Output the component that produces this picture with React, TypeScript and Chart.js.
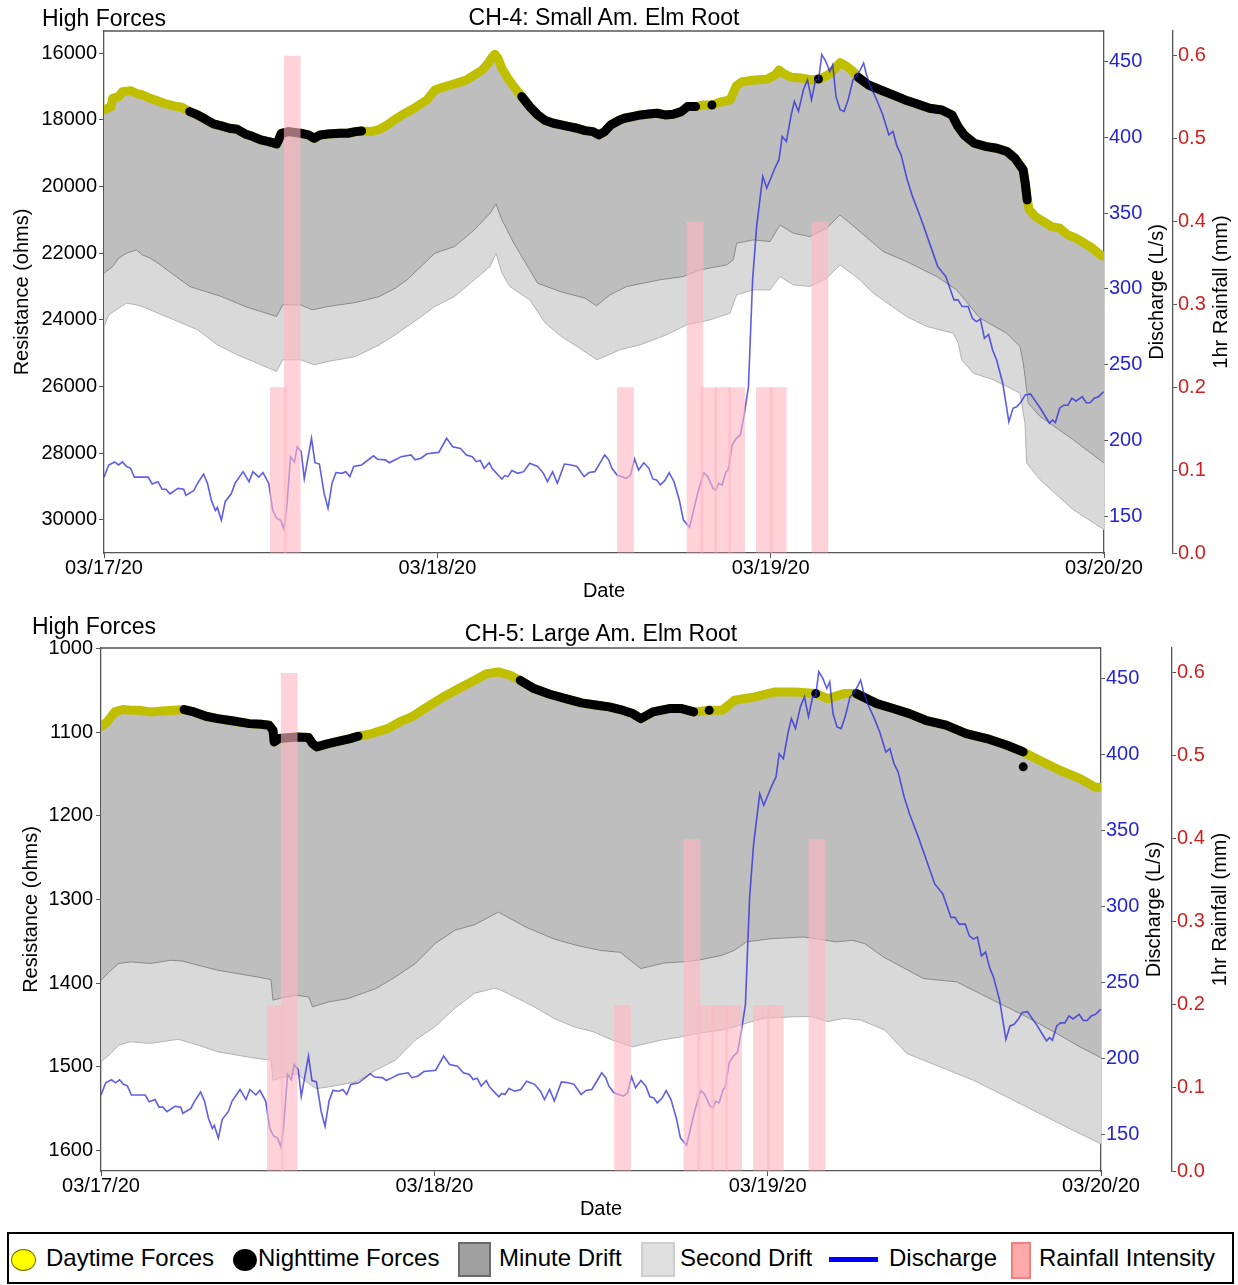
import React, { useEffect, useRef } from 'react';
import { Chart, registerables } from 'chart.js';

Chart.register(...registerables);

const FONT = '"Liberation Sans", Arial, Helvetica, sans-serif';
Chart.defaults.font.family = FONT;
Chart.defaults.color = '#000';

// ---------- shared axis ticks ----------
const DATE_LABELS = ['03/17/20', '03/18/20', '03/19/20', '03/20/20'];
const DATE_TICK_HOURS = [0, 24, 48, 72];
const DISCHARGE_TICKS = [150, 200, 250, 300, 350, 400, 450];
const RAIN_TICKS = [0, 0.1, 0.2, 0.3, 0.4, 0.5, 0.6];
const CH4_TICKS = [16000, 18000, 20000, 22000, 24000, 26000, 28000, 30000];
const CH5_TICKS = [1000, 1100, 1200, 1300, 1400, 1500, 1600];

// ---------- rainfall (hour of interval start since 03/17 00:00, mm) ----------
const RAIN_HOUR = [12, 13, 37, 42, 43, 44, 45, 47, 48, 51];
const RAIN_MM = [0.2, 0.6, 0.2, 0.4, 0.2, 0.2, 0.2, 0.2, 0.2, 0.4];

// ---------- discharge (hours since 03/17 00:00, L/s) ----------
const DISCHARGE_HOUR = [0,0.34,0.76,1.05,1.33,1.62,1.9,2.19,3.18,3.47,3.89,4.18,4.46,4.75,5.32,5.74,5.89,6.46,6.74,7.17,7.45,7.74,8.02,8.16,8.45,8.73,9.16,9.44,10.01,10.44,10.72,11.15,11.44,11.86,12.15,12.43,12.72,12.94,13.14,13.43,13.71,13.91,14.2,14.42,14.94,15.19,15.51,15.85,16.13,16.42,16.7,17.13,17.41,17.7,17.98,18.55,19.4,19.69,20.26,20.54,20.97,21.4,22.11,22.39,22.82,23.25,24.1,24.67,25.1,25.67,26.09,26.52,26.8,27.09,27.37,27.74,27.94,28.37,28.65,28.85,29.08,29.37,29.79,30.22,30.65,31.22,31.64,31.93,32.3,32.64,33.15,33.64,34.06,34.57,34.92,35.34,35.77,36.05,36.34,36.57,36.94,37.61,37.91,38.2,38.49,38.87,39.23,39.52,39.81,40.05,40.4,40.69,41.04,41.42,41.72,42.16,42.74,43.18,43.47,43.85,44.06,44.26,44.5,44.79,44.94,45.23,45.52,45.82,46.11,46.4,46.7,46.99,47.43,47.72,48.01,48.31,48.6,48.83,49.13,49.48,49.71,50.0,50.36,50.65,50.94,51.24,51.45,51.68,51.97,52.26,52.47,52.7,53.0,53.29,53.58,53.93,54.17,54.46,54.69,54.9,55.19,55.63,56.07,56.51,56.8,57.1,57.39,57.83,58.21,58.85,59.44,60.03,60.61,61.2,61.49,61.78,62.22,62.52,62.81,63.1,63.39,63.69,63.98,64.27,64.71,65.15,65.45,65.74,66.03,66.33,66.71,67.0,67.35,67.79,68.08,68.29,68.5,68.81,69.1,69.4,69.69,69.98,70.43,70.72,71.0,71.3,71.6,71.98];
const DISCHARGE_LPS = [176,184,186,184,186,183,182,176,176,171.5,173,168,168,165,168.6,168,164,167,172,178,172,160.5,154,156,147.6,160,165,172,179.6,173,179.6,176,179,172,154,149,147.6,142,154,189.5,186,196,192.7,175,201.6,185.5,184.6,165.3,155.4,172,179,178.5,179.6,176.3,183,184,190,187.8,187.4,185.5,187.4,189.5,190.6,187.4,188.5,191.4,192.3,201.6,196,194.9,190.6,189.5,186.2,187,181.8,185.5,181.8,177.4,174.8,177,176.3,180.3,178.5,179.6,185.1,183,178.5,173,179.6,172,184.6,184,183,176.3,179,179.6,186.2,190.6,187.4,181.8,177.4,175.2,177.4,188,180.7,185.5,181.8,174.8,174,170.8,174,178.9,173,160.9,147.7,142.9,165.3,178.9,176.3,168.6,167.5,171.9,170.8,179.6,180.7,197.2,201.6,203.8,218.1,235.7,306,341.2,374.1,366.5,373,379.7,385.2,400.5,397.2,414.8,423.6,417,431.3,437.9,424.7,437.9,438,454.4,450,443.4,447.8,426.9,418.1,417,424.7,437.9,440.1,444.5,448.9,441.2,433.5,424.7,414.8,401.6,403.8,393.9,388.5,372,361,345.6,330.2,314.8,308.2,292.8,292.8,288.4,288.4,280.7,278.5,280,267.5,270,259.8,253.2,237.9,212.5,221.4,222.5,225.7,230.2,230.8,226.9,222.4,215.8,211.5,213.7,212,221.4,223.4,223.4,228,226,229,225,225,228,229,232.3];

// ---------- CH-4: Small Am. Elm Root (ohms) ----------
const CH4_FORCE_HOUR = [0,0.5,0.62,1.05,1.33,1.9,2.33,2.76,3.33,3.89,4.46,5.03,5.6,6.17,6.74,7.31,7.88,8.45,9.02,9.59,10.16,10.72,11.29,11.86,12.43,12.57,12.77,13.29,14.14,14.71,15.14,15.56,16.13,17,17.55,18.12,18.55,19.26,19.83,20.4,20.97,21.54,22.11,22.68,23.25,23.82,24.39,24.95,25.52,26.09,26.66,27.23,27.66,27.94,28.14,28.37,28.65,29.08,29.51,30.08,30.65,31.22,31.78,32.35,32.92,33.49,34.06,34.63,35.2,35.63,36.05,36.48,37.14,37.47,38.05,38.64,39.23,39.81,40.4,40.98,41.57,42.01,42.6,43.18,43.77,44.5,45.08,45.52,45.96,46.84,47.72,48.31,48.6,48.89,49.48,50.36,50.94,51.53,52.12,52.56,53,53.43,53.87,54.31,55.04,55.92,56.8,57.68,58.56,59.44,60.32,61.05,61.49,61.93,62.66,63.54,64.27,65.01,65.59,66.18,66.33,66.47,66.62,67.06,67.64,68.23,68.81,69.4,69.99,70.57,71.16,71.74,72];
const CH4_FORCE = [17700,17600,17350,17300,17150,17120,17200,17250,17350,17430,17520,17580,17620,17750,17850,17980,18120,18180,18250,18280,18420,18500,18600,18650,18720,18600,18400,18350,18400,18450,18550,18450,18420,18400,18400,18350,18330,18350,18280,18150,17980,17830,17700,17550,17400,17100,17020,16950,16880,16800,16650,16500,16300,16120,16030,16150,16450,16750,17000,17300,17600,17850,18020,18100,18150,18200,18250,18320,18350,18450,18350,18150,18000,17950,17900,17850,17820,17800,17850,17830,17750,17600,17600,17550,17550,17450,17400,16980,16850,16800,16780,16650,16500,16600,16720,16750,16800,16770,16650,16500,16280,16380,16520,16720,16950,17100,17250,17400,17520,17650,17700,17850,18200,18450,18700,18800,18850,18950,19150,19500,19900,20400,20700,20900,21050,21200,21250,21450,21550,21700,21850,22050,22100];
const CH4_MINUTE_HOUR = [0,0.62,1.05,1.62,2.33,2.76,3.33,3.89,6.17,8.45,10.16,11.29,12.43,12.86,14.14,14.99,16.13,18.12,19.83,20.97,21.82,23.82,25.24,26.66,27.8,28.22,28.65,29.51,30.65,31.22,32.83,34.63,35.47,36.43,37.63,40.03,41.71,42.91,44.83,45.31,45.55,46.75,47.95,48.67,49.63,50.83,52.03,52.99,54.43,56.1,57.79,59.95,61.39,63.07,64.99,65.95,66.19,66.55,67.39,69.79,72];
const CH4_MINUTE = [22600,22400,22150,22000,21900,22050,22150,22300,23000,23300,23600,23750,23900,23550,23550,23700,23600,23480,23300,23050,22800,22000,21800,21300,20800,20520,21000,21700,22500,22900,23150,23350,23580,23250,23000,22800,22700,22500,22350,22200,21700,21600,21650,21150,21400,21500,21250,20850,21350,21950,22250,22700,23100,23950,24400,24800,25300,26500,26900,27600,28300];
const CH4_SECOND_HOUR = [0,0.34,1.05,1.62,2.33,2.76,3.89,5.32,6.74,8.16,9.59,11.01,12.43,12.86,14.14,15.14,16.13,18.12,19.83,20.97,22.68,23.82,25.24,26.66,27.8,28.22,28.65,29.22,30.65,31.78,32.92,34.06,35.49,36.34,37.14,38.6,40.5,41.95,43.63,45.07,45.55,46.75,47.95,48.67,49.63,50.83,52.03,52.99,54.43,55.39,57.79,59.23,61.15,61.51,61.75,62.59,64.03,65.95,66.31,66.43,67.39,69.79,72];
const CH4_SECOND = [24200,23850,23650,23500,23550,23600,23800,24050,24300,24750,25050,25300,25550,25200,25200,25350,25250,25100,24750,24450,23950,23600,23300,22800,22400,22000,22600,23000,23400,24100,24500,24800,25200,25050,24900,24750,24450,24150,24000,23800,23250,23100,23100,22700,22950,23000,22750,22350,22800,23200,23900,24200,24400,24700,25200,25600,25800,26200,27100,28300,28800,29700,30300];
const CH4_NIGHT = [[6.1, 18.6], [30.0, 42.7], [54.2, 66.5]];
const CH4_NIGHT_DOT_HOUR = [43.77, 51.44];
const CH4_NIGHT_DOT = [17550, 16770];

// ---------- CH-5: Large Am. Elm Root (ohms) ----------
const CH5_FORCE_HOUR = [0,0.43,1.0,1.57,2.14,2.71,3.56,4.41,5.27,5.98,6.69,7.55,8.4,9.54,10.68,11.53,12.1,12.38,12.47,12.81,14.09,14.95,15.23,15.52,16.37,17.22,17.94,18.51,19.5,20.64,21.49,22.35,23.49,24.63,25.76,26.9,27.76,28.61,29.46,30.18,31.17,32.31,33.45,34.59,35.73,36.58,37.38,38.28,38.87,39.75,40.92,41.8,42.68,43.79,44.73,45.61,47.07,48.53,50.0,51.46,52.34,53.51,54.39,55.86,57.03,58.2,59.37,60.84,62.3,63.77,65.23,66.4,67.57,69.04,70.5,71.53,72];
const CH5_FORCE = [1093.6,1087.7,1075.7,1072.9,1073.7,1073.7,1075.7,1074.5,1073.7,1072.9,1075.7,1080.9,1083.7,1086.5,1089.7,1090.5,1091.6,1097.6,1111.6,1107.6,1105.6,1106.4,1113.6,1117.5,1113.6,1110.4,1107.6,1104.8,1101.6,1095.6,1087.7,1081.7,1069.7,1057.8,1047.8,1037.9,1029.9,1027.9,1031.9,1037.9,1047.8,1054.6,1059.8,1064.9,1067.7,1069.7,1072.9,1077.7,1083.7,1075.7,1071.7,1071.7,1075.7,1073.7,1073.7,1061.8,1057.8,1051.8,1051.8,1053.8,1059.8,1053.8,1053.8,1065.8,1071.7,1077.7,1085.7,1091.6,1101.6,1107.6,1115.6,1123.5,1133.5,1145.4,1155.4,1165.4,1166];
const CH5_MINUTE_HOUR = [0,0.71,1.28,2.14,3.56,4.98,5.84,6.98,8.4,9.82,11.25,12.24,12.38,13.24,14.09,14.95,15.23,16.37,17.79,19.79,21.2,22.63,24.05,25.48,26.9,28.61,30.6,32.6,34.3,36.01,37.38,38.87,40.5,41.8,42.97,44.73,45.61,46.48,48.24,50.59,51.46,52.93,54.1,54.98,56.33,59.21,61.61,63.29,65.22,66.66,68.82,70.49,72];
const CH5_MINUTE = [1396.5,1384.5,1376.5,1374.5,1376.5,1372.6,1373.4,1378.5,1384.5,1388.5,1392.5,1395.7,1420.4,1416.4,1414.4,1416.4,1428.3,1422.4,1418.4,1406.4,1392.5,1376.5,1352.6,1336.7,1330,1315,1333,1347,1355,1361,1363,1382.5,1376,1374.5,1372.6,1366.6,1360.6,1350.6,1346.7,1344.7,1346.7,1350.6,1348.7,1352.6,1368.6,1394.4,1398.4,1412.4,1428.4,1440.3,1460.2,1476.2,1489];
const CH5_SECOND_HOUR = [0,0.71,1.28,2.14,3.56,5.55,6.98,8.4,9.82,11.25,12.24,12.38,13.24,14.09,14.95,15.52,16.37,18.36,19.79,21.2,22.63,24.05,25.48,26.9,28.33,28.75,29.75,31.17,32.6,34.02,35.44,36.82,38.28,40.33,41.8,42.97,44.73,45.61,47.66,50,51.17,52.34,53.51,54.69,56.44,58.01,60.41,62.81,65.22,67.61,70.01,72];
const CH5_SECOND = [1494,1484,1474,1470,1472,1467,1474,1482,1486,1490,1492,1516,1512,1508,1520,1526,1524,1518,1504,1492,1468,1452,1430,1412,1406,1408,1416,1428,1442,1452,1458,1468,1476,1468,1464,1460,1456,1452,1442,1440,1440,1446,1442,1444,1456,1484,1500,1516,1536,1556,1576,1592];
const CH5_NIGHT = [[5.95, 18.6], [30.1, 42.75], [54.2, 66.45]];
const CH5_NIGHT_DOT_HOUR = [43.79, 51.46, 66.4];
const CH5_NIGHT_DOT = [1073.7, 1053.8, 1141.4];

// ---------- chart construction ----------
const xy = (hs: number[], vs: number[]) => hs.map((h, i) => ({ x: h, y: vs[i] }));

const makeSideTitles = (items: any[]) => ({
  id: 'sideTitles',
  afterDraw(chart: any) {
    const { ctx, chartArea } = chart;
    const cy = (chartArea.top + chartArea.bottom) / 2;
    items.forEach((it) => {
      const sc = chart.scales[it.scale];
      ctx.save();
      ctx.font = `20px ${FONT}`;
      ctx.fillStyle = '#000';
      ctx.textAlign = 'center';
      ctx.textBaseline = 'middle';
      ctx.translate(sc.right - it.offset, cy);
      ctx.rotate(-Math.PI / 2);
      ctx.fillText(it.text, 0, 0);
      ctx.restore();
    });
  },
});

const topSpine = {
  id: 'topSpine',
  afterDraw(chart: any) {
    const { ctx, chartArea: a } = chart;
    ctx.save();
    ctx.strokeStyle = '#555';
    ctx.lineWidth = 1.3;
    ctx.beginPath();
    ctx.moveTo(a.left, a.top);
    ctx.lineTo(a.right, a.top);
    ctx.stroke();
    ctx.restore();
  },
};

function buildConfig(p: any) {
  const isNight = (h: number) => p.night.some((iv: number[]) => h >= iv[0] && h <= iv[1]);
  const grid = { drawOnChartArea: false, drawTicks: true, tickLength: 5, color: '#555', lineWidth: 1 };
  const border = { display: true, color: '#555', width: 1.3 };
  const setTicks = (list: number[]) => (s: any) => {
    s.ticks = list.map((v) => ({ value: v }));
  };
  return {
    type: 'line',
    data: {
      datasets: [
        {
          type: 'bar',
          label: 'Rainfall Intensity',
          data: RAIN_HOUR.map((h, i) => ({ x: h + 0.55, y: RAIN_MM[i] })),
          yAxisID: 'rain',
          backgroundColor: 'rgba(255,182,193,0.62)',
          borderWidth: 0,
          barPercentage: 1.2,
          categoryPercentage: 1,
          order: 0,
        },
        {
          label: 'Discharge',
          data: xy(DISCHARGE_HOUR, DISCHARGE_LPS),
          yAxisID: 'q',
          borderColor: 'rgba(40,40,220,0.75)',
          borderWidth: 1.6,
          pointRadius: 0,
          fill: false,
          tension: 0,
          order: 1,
        },
        {
          label: 'Nighttime dots',
          data: xy(p.dotH, p.dot),
          yAxisID: 'y',
          showLine: false,
          pointRadius: 4.5,
          pointBackgroundColor: '#000',
          pointBorderWidth: 0,
          order: 2,
        },
        {
          label: 'Nighttime Forces',
          data: p.fH.map((h: number, i: number) => ({ x: h, y: isNight(h) ? p.f[i] : null })),
          yAxisID: 'y',
          borderColor: '#000',
          borderWidth: 9,
          borderCapStyle: 'round',
          borderJoinStyle: 'round',
          pointRadius: 0,
          spanGaps: false,
          fill: false,
          order: 3,
        },
        {
          label: 'Daytime Forces',
          data: xy(p.fH, p.f),
          yAxisID: 'y',
          borderColor: '#bfbf00',
          borderWidth: 9,
          borderCapStyle: 'round',
          borderJoinStyle: 'round',
          pointRadius: 0,
          fill: false,
          order: 4,
        },
        {
          label: 'Minute Drift',
          data: xy(p.mH, p.m),
          yAxisID: 'y',
          borderColor: '#8a8a8a',
          borderWidth: 1,
          pointRadius: 0,
          fill: { target: 4 },
          backgroundColor: 'rgb(190,190,190)',
          order: 5,
        },
        {
          label: 'Second Drift',
          data: xy(p.sH, p.s),
          yAxisID: 'y',
          borderColor: '#b2b2b2',
          borderWidth: 1,
          pointRadius: 0,
          fill: { target: 4 },
          backgroundColor: 'rgb(217,217,217)',
          order: 6,
        },
      ],
    },
    options: {
      responsive: false,
      animation: false,
      devicePixelRatio: 1,
      layout: { padding: { top: p.padTop, left: 0, right: 0, bottom: 0 } },
      plugins: { legend: { display: false }, tooltip: { enabled: false } },
      scales: {
        x: {
          type: 'linear',
          min: 0,
          max: 72,
          offset: false,
          afterFit: (s: any) => { s.height = 50; },
          afterBuildTicks: setTicks(DATE_TICK_HOURS),
          ticks: {
            autoSkip: false,
            maxRotation: 0,
            padding: -2,
            font: { size: 20 },
            color: '#000',
            callback: (v: number) => DATE_LABELS[DATE_TICK_HOURS.indexOf(v)],
          },
          grid: { ...grid, offset: false },
          border,
          title: { display: true, text: 'Date', font: { size: 20 }, color: '#000', padding: { top: 0, bottom: 0 } },
        },
        y: {
          type: 'linear',
          position: 'left',
          reverse: true,
          min: p.yMin,
          max: p.yMax,
          afterFit: (s: any) => { s.width = p.leftW; },
          afterBuildTicks: setTicks(p.yTicks),
          ticks: { font: { size: 20 }, color: '#000', padding: p.leftPad, callback: (v: number) => String(v) },
          grid,
          border,
          title: {
            display: true,
            text: 'Resistance (ohms)',
            font: { size: 20 },
            color: '#000',
            padding: { top: p.leftTitlePad, bottom: 0 },
          },
        },
        q: {
          type: 'linear',
          position: 'right',
          weight: 0,
          min: 126,
          max: 470,
          afterFit: (s: any) => { s.width = p.qW; },
          afterBuildTicks: setTicks(DISCHARGE_TICKS),
          ticks: { font: { size: 20 }, color: '#2626d0', padding: 1, callback: (v: number) => String(v) },
          grid: { ...grid, tickLength: 4 },
          border,
        },
        rain: {
          type: 'linear',
          position: 'right',
          weight: 1,
          min: 0,
          max: 0.63,
          afterFit: (s: any) => { s.width = p.rW; },
          afterBuildTicks: setTicks(RAIN_TICKS),
          ticks: { font: { size: 20 }, color: '#d01e1e', padding: 1, callback: (v: number) => v.toFixed(1) },
          grid: { ...grid, tickLength: 4 },
          border,
        },
      },
    },
    plugins: [
      topSpine,
      makeSideTitles([
        { scale: 'q', text: 'Discharge (L/s)', offset: p.qTitleOff },
        { scale: 'rain', text: '1hr Rainfall (mm)', offset: p.rTitleOff },
      ]),
    ],
  };
}

function ChartCanvas({ params, top, height }: any) {
  const ref = useRef<HTMLCanvasElement>(null);
  useEffect(() => {
    const chart = new Chart(ref.current as HTMLCanvasElement, buildConfig(params) as any);
    return () => chart.destroy();
  }, []);
  return (
    <canvas
      ref={ref}
      width={1238}
      height={height}
      style={{ position: 'absolute', left: 0, top, width: 1238, height }}
    />
  );
}

const CH4_PARAMS = {
  fH: CH4_FORCE_HOUR, f: CH4_FORCE,
  mH: CH4_MINUTE_HOUR, m: CH4_MINUTE,
  sH: CH4_SECOND_HOUR, s: CH4_SECOND,
  night: CH4_NIGHT, dotH: CH4_NIGHT_DOT_HOUR, dot: CH4_NIGHT_DOT,
  yMin: 15330, yMax: 31000, yTicks: CH4_TICKS,
  padTop: 31, leftW: 104, leftPad: 2, leftTitlePad: 10,
  qW: 69, rW: 65, qTitleOff: 16, rTitleOff: 17,
};

const CH5_PARAMS = {
  fH: CH5_FORCE_HOUR, f: CH5_FORCE,
  mH: CH5_MINUTE_HOUR, m: CH5_MINUTE,
  sH: CH5_SECOND_HOUR, s: CH5_SECOND,
  night: CH5_NIGHT, dotH: CH5_NIGHT_DOT_HOUR, dot: CH5_NIGHT_DOT,
  yMin: 999.3, yMax: 1624.5, yTicks: CH5_TICKS,
  padTop: 36, leftW: 101, leftPad: 3, leftTitlePad: 19,
  qW: 71, rW: 66, qTitleOff: 18, rTitleOff: 18,
};

const textStyle = (left: number, top: number, size: number, extra: any = {}) => ({
  position: 'absolute' as const,
  left,
  top,
  fontSize: size,
  lineHeight: `${size + 4}px`,
  whiteSpace: 'nowrap' as const,
  color: '#000',
  ...extra,
});

function Legend() {
  const t = (left: number, label: string) => (
    <span style={textStyle(left, 10, 24)}>{label}</span>
  );
  return (
    <div
      style={{
        position: 'absolute',
        left: 7,
        top: 1232,
        width: 1227,
        height: 52,
        border: '2px solid #000',
        boxSizing: 'border-box',
        background: '#fff',
      }}
    >
      <div style={{ position: 'absolute', left: 2, top: 15, width: 25, height: 22, borderRadius: '50%', background: '#ffff00', border: '1.5px solid #6f6f00', boxSizing: 'border-box' }} />
      {t(37, 'Daytime Forces')}
      <div style={{ position: 'absolute', left: 224, top: 15, width: 24, height: 22, borderRadius: '50%', background: '#000' }} />
      {t(249, 'Nighttime Forces')}
      <div style={{ position: 'absolute', left: 449, top: 8, width: 33, height: 35, background: '#a0a0a0', border: '2px solid #6a6a6a', boxSizing: 'border-box' }} />
      {t(490, 'Minute Drift')}
      <div style={{ position: 'absolute', left: 632, top: 8, width: 34, height: 35, background: '#e0e0e0', border: '2px solid #cdcdcd', boxSizing: 'border-box' }} />
      {t(671, 'Second Drift')}
      <div style={{ position: 'absolute', left: 820, top: 23, width: 49, height: 5, background: '#0000ff' }} />
      {t(880, 'Discharge')}
      <div style={{ position: 'absolute', left: 1002, top: 8, width: 20, height: 37, background: '#ffaaaa', border: '2px solid #f08080', boxSizing: 'border-box' }} />
      {t(1030, 'Rainfall Intensity')}
    </div>
  );
}

export default function App() {
  return (
    <div
      style={{
        position: 'absolute',
        left: 0,
        top: 0,
        width: 1238,
        height: 1285,
        background: '#fff',
        fontFamily: FONT,
        overflow: 'hidden',
      }}
    >
      <ChartCanvas params={CH4_PARAMS} top={0} height={603} />
      <ChartCanvas params={CH5_PARAMS} top={612} height={609} />
      <div style={textStyle(42, 5, 23)}>High Forces</div>
      <div style={textStyle(104, 4, 23, { width: 1000, textAlign: 'center' })}>CH-4: Small Am. Elm Root</div>
      <div style={textStyle(32, 613, 23)}>High Forces</div>
      <div style={textStyle(101, 620, 23, { width: 1000, textAlign: 'center' })}>CH-5: Large Am. Elm Root</div>
      <Legend />
    </div>
  );
}
